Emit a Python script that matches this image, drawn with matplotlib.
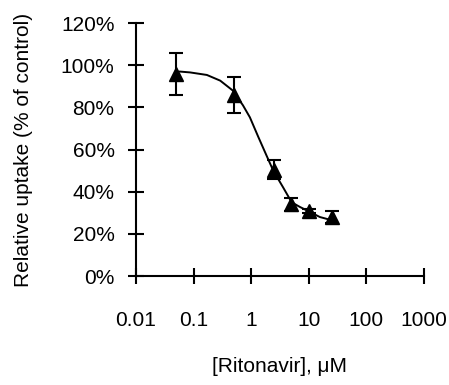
import numpy as np
import matplotlib.pyplot as plt
from matplotlib.ticker import FuncFormatter

plt.rcParams['font.family'] = ['Liberation Sans', 'DejaVu Sans']

# measured points
conc = [0.05, 0.5, 2.5, 5, 10, 25]
uptake = [0.96, 0.86, 0.505, 0.34, 0.31, 0.28]
err = [0.10, 0.085, 0.045, 0.03, 0.01, 0.03]

# fitted curve
fit_x = [0.058, 0.087, 0.17, 0.29, 0.48, 0.72, 0.95, 1.33, 1.86, 2.42,
         3.6, 5.05, 7.0, 10.5, 15.6, 25]
fit_y = [0.97, 0.966, 0.954, 0.927, 0.88, 0.81, 0.753, 0.66, 0.57, 0.50,
         0.42, 0.35, 0.328, 0.304, 0.28, 0.265]

fig = plt.figure(figsize=(4.49, 3.85), dpi=100)
ax = fig.add_axes([0.303, 0.283, 0.641, 0.657])

ax.plot(fit_x, fit_y, color="black", linewidth=1.4)
ax.errorbar(conc, uptake, yerr=err, fmt="^", color="black", markersize=10,
            capsize=5, elinewidth=1.5, capthick=1.5)

ax.set_xscale("log")
ax.set_xlim(0.01, 1000)
ax.set_ylim(0, 1.2)
ax.set_xticks([0.01, 0.1, 1, 10, 100, 1000])
ax.set_xticklabels(["0.01", "0.1", "1", "10", "100", "1000"])
ax.xaxis.set_minor_locator(plt.NullLocator())
ax.set_yticks(np.arange(0, 1.21, 0.2))
ax.yaxis.set_major_formatter(FuncFormatter(lambda v, p: f"{v*100:.0f}%"))

for s in ["top", "right"]:
    ax.spines[s].set_visible(False)
ax.spines["left"].set_linewidth(1.5)
ax.spines["bottom"].set_linewidth(1.5)
ax.tick_params(axis="both", direction="inout", length=11, width=1.5, labelsize=15)
ax.tick_params(axis="x", pad=20)
ax.tick_params(axis="y", pad=10)

ax.set_xlabel("[Ritonavir], μM", fontsize=15, labelpad=19)
ax.set_ylabel("Relative uptake (% of control)", fontsize=15, labelpad=20)

plt.savefig("out.png", dpi=100)
